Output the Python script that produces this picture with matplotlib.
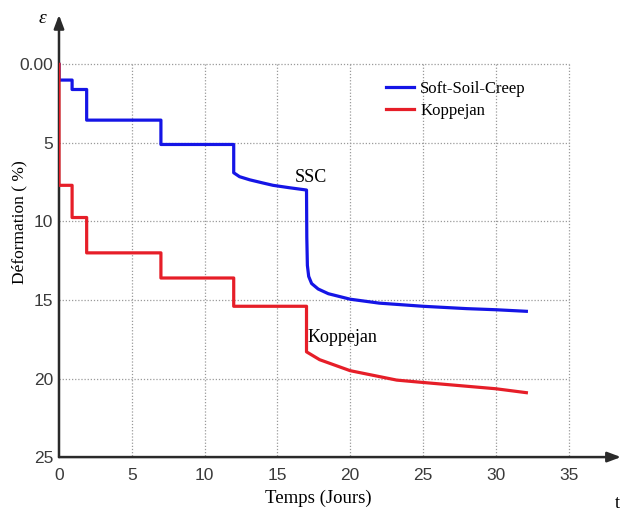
import matplotlib.pyplot as plt

# Soft-Soil-Creep (blue)
ssc_t = [0, 0, 0.9, 0.9, 1.9, 1.9, 7.0, 7.0, 12.0, 12.0, 12.4, 13.1, 14.0, 14.7, 15.8, 17.0,
         17.02, 17.06, 17.15, 17.35, 17.8, 18.5, 20.0, 22.0, 25.0, 28.0, 30.0, 32.1]
ssc_e = [0, 1.0, 1.0, 1.6, 1.6, 3.55, 3.55, 5.1, 5.1, 6.9, 7.15, 7.35, 7.55, 7.7, 7.85, 8.0,
         11.0, 12.8, 13.5, 13.95, 14.3, 14.6, 14.95, 15.2, 15.4, 15.55, 15.62, 15.72]

# Koppejan (red)
kop_t = [0, 0, 0.9, 0.9, 1.9, 1.9, 7.0, 7.0, 12.0, 12.0, 17.0, 17.0, 17.9, 20.0, 23.2, 25.0, 30.0, 32.1]
kop_e = [0, 7.7, 7.7, 9.75, 9.75, 12.0, 12.0, 13.6, 13.6, 15.4, 15.4, 18.3, 18.8, 19.5, 20.1, 20.25, 20.65, 20.9]

x_ticks = [0, 5, 10, 15, 20, 25, 30, 35]
y_ticks = [0, 5, 10, 15, 20, 25]
y_ticklabels = ['0.00', '5', '10', '15', '20', '25']

serif = 'Liberation Serif'
sans = 'Liberation Sans'

fig = plt.figure(figsize=(6.21, 5.13), dpi=100)
ax = fig.add_axes([0.095, 0.109, 0.905, 0.862])
ax.set_xlim(0, 38.6)
ax.set_ylim(25, -3.15)

for s in ax.spines.values():
    s.set_visible(False)

# dotted grid limited to the 0..35 x 0..25 box
grid_kw = dict(colors='#9a9a9a', linestyles=(0, (1, 1.5)), linewidth=0.9, zorder=1)
ax.vlines(x_ticks[1:], 0, 25, **grid_kw)
ax.hlines(y_ticks[:-1], 0, 35, **grid_kw)

ax.plot(ssc_t, ssc_e, color='#1515e6', lw=2.3, zorder=3, label='Soft-Soil-Creep')
ax.plot(kop_t, kop_e, color='#e61e28', lw=2.3, zorder=4, label='Koppejan')

# axes with arrows
ax.annotate('', xy=(38.6, 25), xytext=(0, 25), annotation_clip=False,
            arrowprops=dict(arrowstyle='-|>,head_length=0.8,head_width=0.3', color='#2a2a2a', lw=1.8, shrinkA=0, shrinkB=0))
ax.annotate('', xy=(0, -3.15), xytext=(0, 25), annotation_clip=False,
            arrowprops=dict(arrowstyle='-|>,head_length=0.8,head_width=0.3', color='#2a2a2a', lw=1.8, shrinkA=0, shrinkB=0))

ax.set_xticks(x_ticks)
ax.set_yticks(y_ticks)
ax.set_yticklabels(y_ticklabels)
ax.tick_params(length=0, labelsize=12.5, colors='#3a3a3a')
ax.tick_params(axis='x', pad=8)
ax.tick_params(axis='y', pad=4)
for lab in ax.get_xticklabels() + ax.get_yticklabels():
    lab.set_family(sans)

ax.text(16.2, 7.2, 'SSC', fontsize=13, family=serif, va='center', ha='left')
ax.text(17.1, 17.4, 'Koppejan', fontsize=13, family=serif, va='center', ha='left')

fig.text(318 / 621, 1 - 498 / 513, 'Temps (Jours)', fontsize=13.5, family=serif, ha='center', va='center')
fig.text(19 / 621, 1 - 222 / 513, 'Déformation ( %)', fontsize=12.5, family=serif, rotation=90,
         ha='center', va='center')
fig.text(617 / 621, 1 - 504 / 513, 't', fontsize=13, family=serif, ha='center', va='center')
fig.text(42 / 621, 1 - 19 / 513, 'ε', fontsize=14, family=serif, style='italic', ha='center', va='center')

leg = ax.legend(loc='upper left', bbox_to_anchor=(386 / 621, 1 - 81 / 513), bbox_transform=fig.transFigure,
                frameon=False, prop={'family': serif, 'size': 12}, handlelength=1.7, handletextpad=0.35,
                labelspacing=0.38, borderaxespad=0, borderpad=0)

fig.savefig('out.png', dpi=100)
